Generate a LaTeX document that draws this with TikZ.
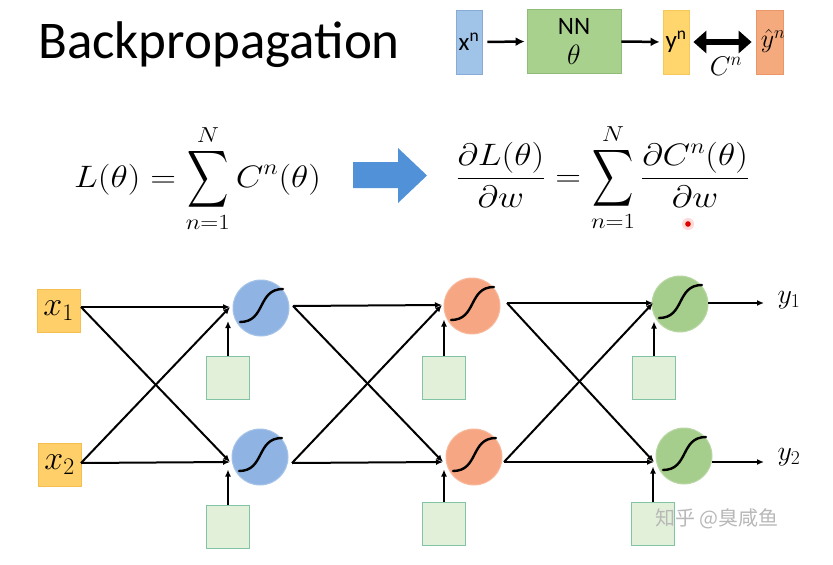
\RequirePackage{fix-cm}
\documentclass[tikz,border=0pt]{standalone}
\usepackage{amsmath}
\usepackage[no-math]{fontspec}
\setmainfont{Carlito}
\newfontfamily\cjk{Noto Sans CJK SC}
\usetikzlibrary{arrows.meta}
\definecolor{xbl}{RGB}{160,195,232}
\definecolor{xbld}{RGB}{135,170,215}
\definecolor{nng}{RGB}{169,209,142}
\definecolor{nngd}{RGB}{145,188,120}
\definecolor{yny}{RGB}{255,214,110}
\definecolor{ynyd}{RGB}{245,200,90}
\definecolor{yho}{RGB}{245,170,125}
\definecolor{yhod}{RGB}{235,150,105}
\definecolor{inbox}{RGB}{255,208,105}
\definecolor{inboxd}{RGB}{245,190,80}
\definecolor{cbl}{RGB}{143,180,227}
\definecolor{cbld}{RGB}{165,195,232}
\definecolor{cor}{RGB}{246,166,130}
\definecolor{cord}{RGB}{248,185,155}
\definecolor{cgr}{RGB}{165,205,140}
\definecolor{cgrd}{RGB}{185,215,165}
\definecolor{biasf}{RGB}{226,240,217}
\definecolor{biasd}{RGB}{130,195,165}
\definecolor{bigarrow}{RGB}{80,145,215}
\newcommand\bigsum{\mathop{\vcenter{\hbox{\scalebox{1.0}[1.6]{$\displaystyle\sum$}}}}\limits}
\tikzset{
  topbox/.style={draw, line width=0.8pt, inner sep=0pt, minimum width=26pt, minimum height=64pt, font=\fontsize{25}{29}\selectfont},
  toparr/.style={line width=2.5pt, -{Latex[length=9pt,width=9pt]}},
  netarr/.style={line width=2pt, -{Latex[length=7pt,width=6pt]}},
  inbx/.style={fill=inbox, draw=inboxd, line width=0.8pt, minimum size=43pt, inner sep=0pt, font=\fontsize{34}{40}\selectfont},
  neuron/.style={circle, minimum size=56pt, inner sep=0pt, line width=1pt},
  bias/.style={fill=biasf, draw=biasd, line width=1pt, minimum size=43pt, inner sep=0pt},
  sig/.style={line width=2.4pt, line cap=round},
  outlbl/.style={font=\fontsize{28}{32}\selectfont, inner sep=0pt},
  formula/.style={anchor=base west, inner sep=0pt, font=\fontsize{31}{36}\selectfont},
}
\begin{document}
\begin{tikzpicture}[x=1pt,y=-1pt]
\fill[white] (0,0) rectangle (833,565);
\useasboundingbox (0,0) rectangle (833,565);

% title
\node[anchor=base west, inner sep=0pt, font=\fontsize{53}{60}\selectfont] (title) at (38,58) {Backpropagation};

% top diagram
\node[topbox, fill=xbl, draw=xbld] (xn) at (469,42) {x\textsuperscript{n}};
\node[topbox, fill=nng, draw=nngd, minimum width=94pt, align=center] (nn) at (574,41.5) {NN\\[1pt]{\fontsize{28}{30}\selectfont$\theta$}};
\node[topbox, fill=yny, draw=ynyd] (yn) at (676,42) {y\textsuperscript{n}};
\node[topbox, fill=yho, draw=yhod, minimum width=27pt] (yh) at (769.5,42) {};
\node[inner sep=0pt, font=\fontsize{26}{30}\selectfont] (yht) at (773,41) {$\hat{y}^n$};
\draw[toparr, shorten <=5pt, shorten >=2pt] (xn.east) -- (nn.west);
\draw[toparr, shorten >=3pt] (nn.east) -- (yn.west);
\draw[line width=6pt, {Triangle[length=13pt,width=22pt]}-{Triangle[length=13pt,width=22pt]}, shorten <=4pt, shorten >=4pt] (yn.east) -- (yh.west);
\node[inner sep=0pt, font=\fontsize{27}{30}\selectfont] (cn) at (726,66) {$C^n$};

% formulas
\node[formula] (f1) at (74,187)
  {\scalebox{1.15}[1]{$\displaystyle L(\theta) = \bigsum_{n=1}^{N} C^n(\theta)$}};
\fill[bigarrow] (353,162) -- (398,162) -- (398,148) -- (427,175.5) -- (398,203) -- (398,188) -- (353,188) -- cycle;
\node[formula] (f2) at (456,186)
  {\scalebox{1.15}[1]{$\displaystyle \frac{\partial L(\theta)}{\partial w} = \bigsum_{n=1}^{N} \frac{\partial C^n(\theta)}{\partial w}$}};
\fill[red!30, opacity=0.5] (688,224) circle (6);
\fill[red!85!black] (688,224) circle (2.8);

% network nodes
\node[inbx] (x1) at (58.5,310.5) {$x_1$};
\node[inbx] (x2) at (59.5,464.5) {$x_2$};
\node[neuron, fill=cbl, draw=cbld] (a1) at (261,308) {};
\node[neuron, fill=cbl, draw=cbld] (a2) at (260,457) {};
\node[neuron, fill=cor, draw=cord] (b1) at (472,306) {};
\node[neuron, fill=cor, draw=cord] (b2) at (474,457) {};
\node[neuron, fill=cgr, draw=cgrd] (c1) at (680,304) {};
\node[neuron, fill=cgr, draw=cgrd] (c2) at (684,456) {};
\node[bias] (ba1) at (228,378) {};
\node[bias] (ba2) at (228,526.5) {};
\node[bias] (bb1) at (444,377.5) {};
\node[bias] (bb2) at (444,523.5) {};
\node[bias] (bc1) at (654,377.5) {};
\node[bias] (bc2) at (653,523.5) {};
\node[outlbl] (y1) at (789,300) {$y_1$};
\node[outlbl] (y2) at (789,457) {$y_2$};

% sigmoids
\foreach \n in {a1,a2,b1,b2,c1,c2}{
  \draw[sig] (\n.center) ++(-21,14) .. controls +(26,0) and +(-26,0) .. ++(43,-33);
}

% ports
\coordinate (x1o) at (81,307);
\coordinate (x2o) at (81,463);
\coordinate (a1i) at (230,307);
\coordinate (a2i) at (230,462);
\coordinate (a1o) at (293,306);
\coordinate (a2o) at (292,463);
\coordinate (b1i) at (442,305);
\coordinate (b2i) at (443,462);
\coordinate (b1o) at (507,303);
\coordinate (b2o) at (504,462);
\coordinate (c1i) at (653,303);
\coordinate (c2i) at (654,462);
\coordinate (c1o) at (708,303);
\coordinate (c2o) at (712,462);
\coordinate (y1i) at (764,303);
\coordinate (y2i) at (764,462);

% connections
\draw[netarr] (x1o) -- (a1i);
\draw[netarr] (x1o) -- (a2i);
\draw[netarr] (x2o) -- (a1i);
\draw[netarr] (x2o) -- (a2i);
\draw[netarr] (a1o) -- (b1i);
\draw[netarr] (a1o) -- (b2i);
\draw[netarr] (a2o) -- (b1i);
\draw[netarr] (a2o) -- (b2i);
\draw[netarr] (b1o) -- (c1i);
\draw[netarr] (b1o) -- (c2i);
\draw[netarr] (b2o) -- (c1i);
\draw[netarr] (b2o) -- (c2i);
\draw[netarr] (c1o) -- (y1i);
\draw[netarr] (c2o) -- (y2i);
% bias arrows
\draw[netarr] (ba1.north) -- ++(0,-35);
\draw[netarr] (ba2.north) -- ++(0,-35);
\draw[netarr] (bb1.north) -- ++(0,-36);
\draw[netarr] (bb2.north) -- ++(0,-32);
\draw[netarr] (bc1.north) -- ++(0,-34);
\draw[netarr] (bc2.north) -- ++(0,-35);

% watermark
\node[text=black!28, font=\cjk\fontsize{20}{24}\selectfont, inner sep=0pt] (wm) at (717,519) {知乎 @臭咸鱼};
\end{tikzpicture}
\end{document}
